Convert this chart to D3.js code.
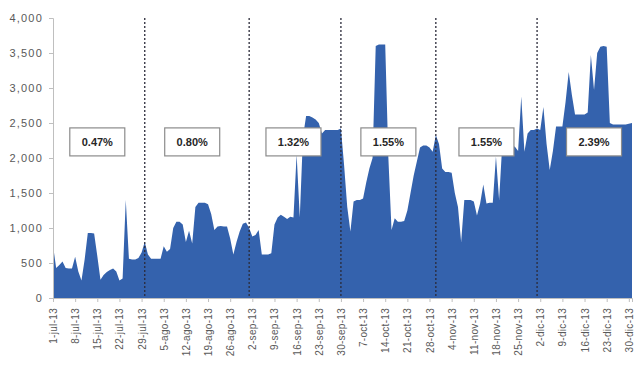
<!DOCTYPE html>
<html>
<head>
<meta charset="utf-8">
<script src="https://cdn.jsdelivr.net/npm/d3@7"></script>
<style>
  body { margin: 0; background: white; }
</style>
</head>
<body>
<div id="canvas"></div>
<script>
var w = 635;
var h = 365;

// daily values, 1-jul-13 .. 31-dic-13
var startDate = "2013-07-01";
var values = [
  750, 430, 470, 520, 430, 420, 420, 590, 380, 250,
  550, 930, 930, 920, 600, 260, 330, 370, 400, 420,
  380, 250, 280, 1400, 560, 550, 550, 570, 650, 800,
  620, 560, 560, 560, 560, 740, 660, 700, 1000, 1090,
  1090, 1050, 800, 960, 780, 1300, 1360, 1360, 1360, 1340,
  1200, 970, 1020, 1030, 1020, 1020, 850, 620, 800, 950,
  1060, 1080, 1000, 880, 900, 970, 620, 620, 620, 640,
  1050, 1150, 1190, 1160, 1130, 1160, 1150, 2050, 1150, 2300,
  2600, 2600, 2580, 2550, 2500, 2350, 2400, 2400, 2400, 2400,
  2400, 2420, 1900, 1300, 950, 1380, 1400, 1400, 1420, 1650,
  1850, 2000, 3600, 3620, 3620, 3620, 2000, 970, 1140, 1090,
  1090, 1100, 1250, 1500, 1750, 1950, 2150, 2180, 2180, 2150,
  2090, 2330, 2200, 1850, 1800, 1800, 1790, 1500, 1300, 800,
  1400, 1400, 1400, 1380, 1180, 1350, 1620, 1350, 1360, 1360,
  2020, 1400, 2200, 2230, 2200, 2180, 2160, 2100, 2880, 2090,
  2350, 2400, 2400, 2420, 2400, 2730, 2200, 1830, 2100, 2450,
  2450, 2450, 2800, 3230, 2900, 2620, 2620, 2620, 2620, 2650,
  3470, 2970, 3500, 3590, 3600, 3590, 2500, 2480, 2480, 2480,
  2480, 2480, 2490, 2500
];

var tickLabels = [
  "1-jul-13", "8-jul-13", "15-jul-13", "22-jul-13", "29-jul-13",
  "5-ago-13", "12-ago-13", "19-ago-13", "26-ago-13",
  "2-sep-13", "9-sep-13", "16-sep-13", "23-sep-13", "30-sep-13",
  "7-oct-13", "14-oct-13", "21-oct-13", "28-oct-13",
  "4-nov-13", "11-nov-13", "18-nov-13", "25-nov-13",
  "2-dic-13", "9-dic-13", "16-dic-13", "23-dic-13", "30-dic-13"
];
var yTicks = [0, 500, 1000, 1500, 2000, 2500, 3000, 3500, 4000];

// period dividers and the growth label of each period
var dividerDates = ["2013-07-30", "2013-09-01", "2013-09-30", "2013-10-30", "2013-12-01"];
var periodLabels = ["0.47%", "0.80%", "1.32%", "1.55%", "1.55%", "2.39%"];
var labelDates = ["2013-07-15", "2013-08-14", "2013-09-15", "2013-10-15", "2013-11-15", "2013-12-19"];
var labelLevel = 2230;

var parse = d3.timeParse("%Y-%m-%d");
var start = parse(startDate);
var data = values.map(function(v, i){
  return { date: d3.timeDay.offset(start, i), value: v };
});

var svg = d3.select("#canvas").append("svg")
  .attr("width", w)
  .attr("height", h)
  .style("background-color", "white");

var xScale = d3.scaleTime()
  .domain([start, data[data.length-1].date])
  .range([53, 632]);

var yScale = d3.scaleLinear()
  .domain([0, 4000])
  .range([298, 18]);

// area
var area = d3.area()
  .x(function(d){ return xScale(d.date); })
  .y0(yScale(0))
  .y1(function(d){ return yScale(d.value); });

svg.append("path")
  .datum(data)
  .attr("d", area)
  .attr("fill", "#3462ad");

// axes
var tickDates = tickLabels.map(function(t, i){ return d3.timeDay.offset(start, i*7); });

var yAxis = svg.append("g")
  .attr("transform", "translate(" + xScale(start) + ",0)")
  .call(d3.axisLeft(yScale).tickValues(yTicks).tickFormat(d3.format(",")).tickSize(4).tickPadding(6));

var xAxis = svg.append("g")
  .attr("transform", "translate(0," + yScale(0) + ")")
  .call(d3.axisBottom(xScale).tickValues(tickDates)
    .tickFormat(function(d, i){ return tickLabels[i]; })
    .tickSize(4));

[yAxis, xAxis].forEach(function(g){
  g.select(".domain").attr("stroke", "#bfbfbf");
  g.selectAll(".tick line").attr("stroke", "#bfbfbf");
  g.selectAll("text")
    .style("font-family", "Liberation Sans, Arial, sans-serif")
    .style("font-size", "11px")
    .attr("fill", "#595959");
});
yAxis.selectAll("text").style("letter-spacing", "1.2px");

xAxis.selectAll("text")
  .attr("text-anchor", "end")
  .attr("transform", "rotate(-90)")
  .attr("x", -10)
  .attr("y", 0)
  .attr("dy", "0.35em")
  .style("font-size", "10px")
  .style("letter-spacing", "0.3px");

// dotted dividers
svg.selectAll(".divider")
  .data(dividerDates)
  .join("line")
  .attr("class", "divider")
  .attr("x1", function(d){ return xScale(parse(d)); })
  .attr("x2", function(d){ return xScale(parse(d)); })
  .attr("y1", yScale(4000))
  .attr("y2", yScale(0))
  .attr("stroke", "#2b2b3a")
  .attr("stroke-width", 1.3)
  .attr("stroke-dasharray", "2,2");

// period boxes
var boxW = 55;
var boxH = 28;
var boxes = svg.selectAll(".pbox")
  .data(periodLabels)
  .join("g")
  .attr("class", "pbox")
  .attr("transform", function(d, i){
    return "translate(" + xScale(parse(labelDates[i])) + "," + yScale(labelLevel) + ")";
  });

boxes.append("rect")
  .attr("x", -boxW/2)
  .attr("y", -boxH/2)
  .attr("width", boxW)
  .attr("height", boxH)
  .attr("fill", "white")
  .attr("stroke", "#8c8c8c")
  .attr("stroke-width", 1.2);

boxes.append("text")
  .attr("text-anchor", "middle")
  .attr("dy", "0.35em")
  .text(function(d){ return d; })
  .style("font-family", "Liberation Sans, Arial, sans-serif")
  .style("font-size", "11px")
  .style("font-weight", "bold")
  .attr("fill", "#262626");
</script>
</body>
</html>
